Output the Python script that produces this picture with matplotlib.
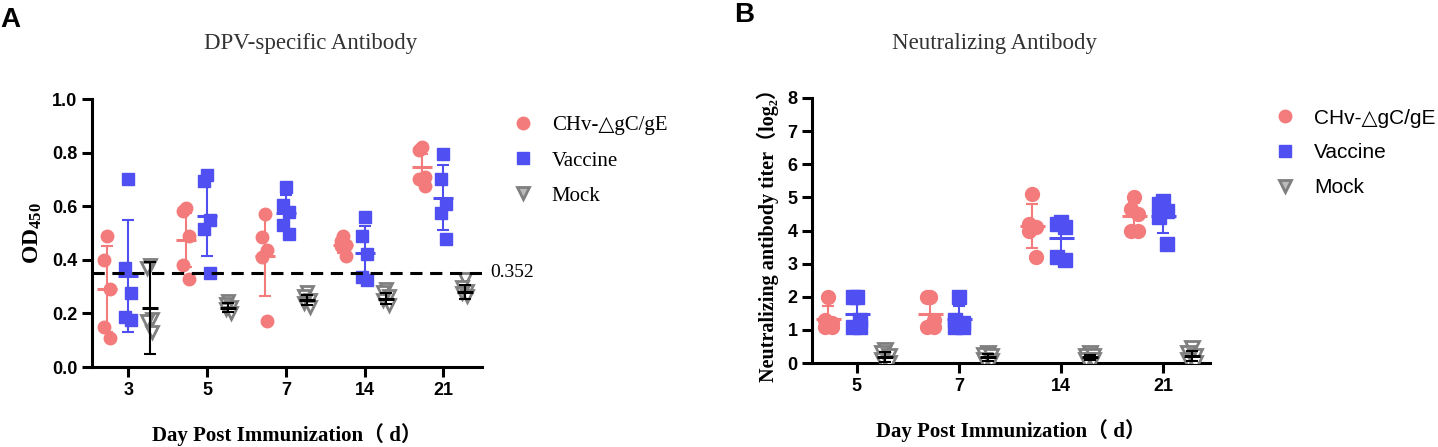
import numpy as np
import matplotlib
matplotlib.use('Agg')
import matplotlib.pyplot as plt
from matplotlib.lines import Line2D

plt.rcParams['mathtext.fontset'] = 'custom'
plt.rcParams['mathtext.rm'] = 'Liberation Serif:bold'
plt.rcParams['mathtext.default'] = 'rm'

# ---- panel A: DPV-specific antibody (OD450) ----
days_a = ['3', '5', '7', '14', '21']
chv_a = [[0.49, 0.40, 0.29, 0.15, 0.11],
         [0.595, 0.582, 0.49, 0.38, 0.33],
         [0.57, 0.485, 0.435, 0.41, 0.17],
         [0.49, 0.47, 0.455, 0.45, 0.415],
         [0.82, 0.81, 0.71, 0.70, 0.675]]
chv_a_mean = [0.29, 0.475, 0.415, 0.455, 0.745]
chv_a_sd = [0.16, 0.10, 0.15, 0.03, 0.05]
vac_a = [[0.70, 0.37, 0.275, 0.185, 0.175],
         [0.715, 0.695, 0.55, 0.515, 0.352],
         [0.67, 0.605, 0.58, 0.53, 0.495],
         [0.56, 0.49, 0.42, 0.335, 0.325],
         [0.795, 0.70, 0.61, 0.575, 0.478]]
vac_a_mean = [0.34, 0.565, 0.575, 0.425, 0.632]
vac_a_sd = [0.21, 0.15, 0.065, 0.10, 0.12]
mock_a = [[0.38, 0.37, 0.18, 0.17, 0.13],
          [0.245, 0.235, 0.225, 0.215, 0.20],
          [0.28, 0.265, 0.25, 0.24, 0.225],
          [0.29, 0.28, 0.265, 0.25, 0.23],
          [0.33, 0.30, 0.285, 0.275, 0.265]]
mock_a_mean = [0.22, 0.222, 0.25, 0.255, 0.28]
mock_a_sd = [0.17, 0.015, 0.02, 0.02, 0.025]
cutoff = 0.352

# ---- panel B: neutralizing antibody titer (log2) ----
days_b = ['5', '7', '14', '21']
chv_b = [[2.0, 1.3, 1.2, 1.1, 1.1],
         [2.0, 2.0, 1.3, 1.1, 1.1],
         [5.1, 4.2, 4.1, 4.0, 3.2],
         [5.0, 4.65, 4.5, 4.0, 4.0]]
chv_b_mean = [1.33, 1.48, 4.14, 4.43]
chv_b_sd = [0.38, 0.5, 0.67, 0.4]
vac_b = [[2.0, 2.0, 1.3, 1.1, 1.1],
         [2.0, 1.3, 1.2, 1.1, 1.1],
         [4.25, 4.2, 4.1, 3.2, 3.1],
         [4.9, 4.8, 4.6, 4.4, 3.6]]
vac_b_mean = [1.48, 1.33, 3.77, 4.43]
vac_b_sd = [0.5, 0.38, 0.55, 0.5]
mock_b = [[0.4, 0.3, 0.2, 0.1, 0.0],
          [0.3, 0.25, 0.2, 0.1, 0.05],
          [0.3, 0.2, 0.2, 0.1, 0.1],
          [0.45, 0.3, 0.2, 0.1, 0.0]]
mock_b_mean = [0.17, 0.17, 0.17, 0.2]
mock_b_sd = [0.15, 0.1, 0.08, 0.15]

PINK = '#F47B7B'
BLUE = '#4F4FF2'
GRAY = '#7F7F7F'
SERIF = ['Liberation Serif', 'DejaVu Serif', 'Noto Sans CJK SC']
SANS = ['Liberation Sans', 'DejaVu Sans']
jit = [0.0, -0.035, 0.035, -0.035, 0.035]


def group(ax, x0, pts, mean, sd, color, marker, ebcolor, ms, mfc=None, mean_w=15):
    for i, (p, m, s) in enumerate(zip(pts, mean, sd)):
        xs = [x0 + i + jit[k % 5] for k in range(len(p))]
        if mfc is None:
            ax.plot(xs, p, ls='none', marker=marker, ms=ms, color=color, mec=color, zorder=3)
        else:
            ax.plot(xs, p, ls='none', marker=marker, ms=ms, mfc=mfc, mec=color, mew=2, zorder=3)
        ax.errorbar(x0 + i, m, yerr=s, color=ebcolor, capsize=4, capthick=1.5, elinewidth=1.5, zorder=4)
        ax.plot(x0 + i, m, marker='_', ms=mean_w, mew=2.2, color=ebcolor, zorder=5)


def style(ax):
    for sp in ['top', 'right']:
        ax.spines[sp].set_visible(False)
    for sp in ['left', 'bottom']:
        ax.spines[sp].set_linewidth(2.2)
    ax.tick_params(width=2.2, length=7, direction='out')
    for lab in ax.get_xticklabels() + ax.get_yticklabels():
        lab.set_fontfamily(SANS)
        lab.set_fontweight('bold')
        lab.set_fontsize(13)


fig = plt.figure(figsize=(14.38, 4.47), dpi=100)

# panel A
axa = fig.add_axes([92 / 1438, 80 / 447, 390 / 1438, 268 / 447])
off = 0.27
group(axa, -off, chv_a, chv_a_mean, chv_a_sd, PINK, 'o', PINK, 9)
group(axa, 0, vac_a, vac_a_mean, vac_a_sd, BLUE, 's', BLUE, 9)
group(axa, off, mock_a, mock_a_mean, mock_a_sd, GRAY, 'v', 'black', 9, mfc='white', mean_w=12)
axa.axhline(cutoff, color='black', ls=(0, (4, 2.5)), lw=2.2, zorder=6)
axa.text(1.02, cutoff, '%.3f' % cutoff, transform=axa.get_yaxis_transform(),
         va='center', ha='left', fontsize=14, family=SERIF)
axa.set_xlim(-0.46, 4.49)
axa.set_ylim(0, 1.0)
axa.set_yticks(np.arange(0, 1.01, 0.2))
axa.set_yticklabels(['%.1f' % v for v in np.arange(0, 1.01, 0.2)])
axa.set_xticks(range(len(days_a)))
axa.set_xticklabels(days_a)
style(axa)
axa.set_ylabel('OD$_{450}$', fontsize=17, family=SERIF, fontweight='bold', labelpad=6)
axa.set_xlabel('Day Post Immunization（ d）', fontsize=15, family=SERIF, fontweight='bold', labelpad=18)

# panel B
axb = fig.add_axes([812 / 1438, 84 / 447, 398 / 1438, 265 / 447])
off_b = 0.28
group(axb, -off_b, chv_b, chv_b_mean, chv_b_sd, PINK, 'o', PINK, 10, mean_w=18)
group(axb, 0, vac_b, vac_b_mean, vac_b_sd, BLUE, 's', BLUE, 10, mean_w=18)
group(axb, off_b, mock_b, mock_b_mean, mock_b_sd, GRAY, 'v', 'black', 10, mfc='white', mean_w=12)
axb.set_xlim(-0.44, 3.46)
axb.set_ylim(0, 8)
axb.set_yticks(range(0, 9))
axb.set_xticks(range(len(days_b)))
axb.set_xticklabels(days_b)
style(axb)
axb.set_ylabel('Neutralizing antibody titer（log₂）', fontsize=14.5, family=SERIF, fontweight='bold', labelpad=6)
axb.set_xlabel('Day Post Immunization（ d）', fontsize=15, family=SERIF, fontweight='bold', labelpad=18)

# legends
handles = [Line2D([], [], ls='none', marker='o', ms=9, color=PINK),
           Line2D([], [], ls='none', marker='s', ms=8, color=BLUE),
           Line2D([], [], ls='none', marker='v', ms=9, mfc='#BBBBBB', mec=GRAY, mew=2)]
names = ['CHv-△gC/gE', 'Vaccine', 'Mock']
fig.legend(handles, names, loc='upper left', bbox_to_anchor=(483 / 1438, 1 - 97 / 447),
           frameon=False, prop={'family': SERIF, 'size': 15}, labelspacing=0.75, handletextpad=0.4)
fig.legend(handles, names, loc='upper left', bbox_to_anchor=(1245 / 1438, 1 - 90 / 447),
           frameon=False, prop={'family': SANS, 'size': 15}, labelspacing=0.75, handletextpad=0.4)

# titles and panel letters
fig.text(311 / 1438, 1 - 43 / 447, 'DPV-specific Antibody', ha='center', va='center',
         fontsize=16.5, family=SERIF, color='#333333')
fig.text(994 / 1438, 1 - 43 / 447, 'Neutralizing Antibody', ha='center', va='center',
         fontsize=16.5, family=SERIF, color='#333333')
fig.text(0 / 1438, 1 - 20 / 447, 'A', ha='left', va='center', fontsize=20, family=SANS, fontweight='bold')
fig.text(734 / 1438, 1 - 15 / 447, 'B', ha='left', va='center', fontsize=20, family=SANS, fontweight='bold')

fig.savefig('out.png', dpi=100)
